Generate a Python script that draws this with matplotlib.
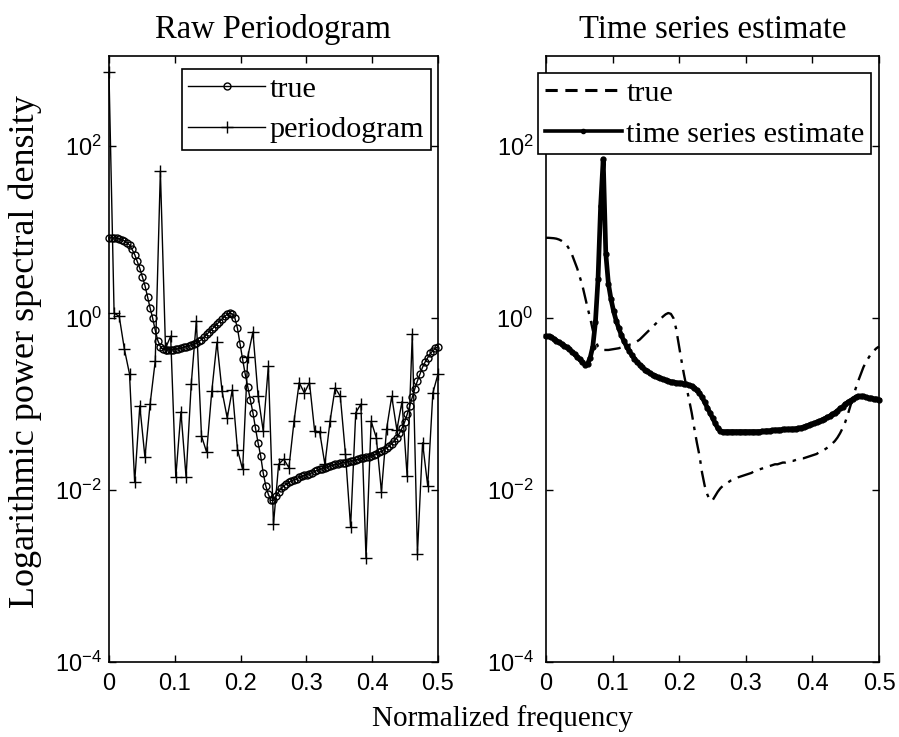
import numpy as np
import matplotlib
matplotlib.use("Agg")
import matplotlib.pyplot as plt
from matplotlib.lines import Line2D

# ---------------- data ----------------
# true spectrum, log10 values at f = k/256, k = 0..128
true_log = [
    0.935, 0.935, 0.933, 0.93, 0.925, 0.915, 0.90, 0.88, 0.85, 0.80,
    0.74, 0.66, 0.58, 0.48, 0.38, 0.25, 0.12, 0.0, -0.14, -0.26,
    -0.33, -0.36, -0.37, -0.37, -0.37, -0.365, -0.36, -0.355, -0.35, -0.34,
    -0.33, -0.32, -0.31, -0.30, -0.29, -0.27, -0.25, -0.22, -0.19, -0.16,
    -0.13, -0.10, -0.07, -0.04, -0.01, 0.02, 0.045, 0.06, 0.05, 0.0,
    -0.12, -0.30, -0.48, -0.65, -0.80, -0.95, -1.10, -1.28, -1.45, -1.60,
    -1.80, -1.95, -2.05, -2.12, -2.12, -2.07, -2.02, -1.98, -1.95, -1.93,
    -1.91, -1.89, -1.88, -1.87, -1.85, -1.84, -1.83, -1.82, -1.81, -1.80,
    -1.78, -1.77, -1.76, -1.75, -1.74, -1.73, -1.72, -1.71, -1.70, -1.70,
    -1.69, -1.68, -1.68, -1.67, -1.66, -1.66, -1.65, -1.64, -1.63, -1.63,
    -1.62, -1.61, -1.60, -1.59, -1.58, -1.56, -1.55, -1.53, -1.51, -1.49,
    -1.46, -1.43, -1.39, -1.34, -1.28, -1.21, -1.12, -1.02, -0.92, -0.82,
    -0.73, -0.65, -0.57, -0.51, -0.46, -0.41, -0.38, -0.35, -0.33,
]

# raw periodogram, log10 values at f = k/128, k = 0..64
pgram_log = [
    2.86, 0.06, 0.02, -0.36, -0.65, -1.91, -1.02, -1.62, -1.00, -0.50,
    1.71, -0.35, -0.21, -1.85, -1.09, -1.85, -0.77, -0.03, -1.37, -1.56,
    -0.85, -0.28, -0.85, -1.16, -0.83, -1.53, -1.76, -0.45, -0.16, -0.90,
    -1.31, -0.56, -2.40, -1.70, -1.64, -1.74, -1.20, -0.75, -0.87, -0.75,
    -1.31, -1.33, -1.70, -1.20, -0.81, -0.91, -1.58, -2.43, -1.10, -1.00,
    -2.79, -1.20, -1.39, -2.02, -1.29, -0.91, -1.30, -0.97, -1.84, -0.19,
    -2.74, -1.45, -1.95, -0.87, -0.65,
]

# time series estimate, log10 values at f = k/256, k = 0..128
ts_log = [
    -0.21, -0.21, -0.22, -0.24, -0.26, -0.28, -0.30, -0.32, -0.34, -0.36,
    -0.39, -0.42, -0.45, -0.48, -0.51, -0.54, -0.53, -0.46, -0.33, -0.05,
    0.45, 1.30, 1.85, 0.75, 0.40, 0.22, 0.08, -0.03, -0.12, -0.20,
    -0.27, -0.33, -0.38, -0.43, -0.47, -0.51, -0.54, -0.57, -0.60, -0.62,
    -0.64, -0.66, -0.67, -0.69, -0.70, -0.71, -0.72, -0.73, -0.74, -0.745,
    -0.75, -0.755, -0.76, -0.765, -0.77, -0.78, -0.79, -0.81, -0.84, -0.87,
    -0.92, -0.98, -1.04, -1.10, -1.16, -1.22, -1.28, -1.31, -1.32, -1.32,
    -1.32, -1.32, -1.32, -1.32, -1.32, -1.32, -1.32, -1.32, -1.32, -1.32,
    -1.32, -1.32, -1.32, -1.315, -1.315, -1.31, -1.31, -1.305, -1.30, -1.30,
    -1.30, -1.295, -1.295, -1.29, -1.29, -1.29, -1.285, -1.28, -1.275, -1.265,
    -1.255, -1.245, -1.235, -1.225, -1.21, -1.20, -1.185, -1.17, -1.155, -1.14,
    -1.12, -1.10, -1.08, -1.05, -1.03, -1.00, -0.98, -0.96, -0.94, -0.92,
    -0.91, -0.91, -0.91, -0.92, -0.93, -0.93, -0.94, -0.94, -0.95,
]

titles = ["Raw Periodogram", "Time series estimate"]
xtick_vals = [0, 0.1, 0.2, 0.3, 0.4, 0.5]
xtick_labels = ["0", "0.1", "0.2", "0.3", "0.4", "0.5"]
ytick_exps = [-4, -2, 0, 2]
ylabel = "Logarithmic power spectral density"
xlabel = "Normalized frequency"

# ---------------- derived ----------------
f_fine = np.arange(len(true_log)) / 256.0
f_pg = np.arange(len(pgram_log)) / 128.0
true_vals = 10.0 ** np.array(true_log)
pg_vals = 10.0 ** np.array(pgram_log)
ts_vals = 10.0 ** np.array(ts_log)

SERIF = ["Liberation Serif", "DejaVu Serif"]
SANS = ["Liberation Sans", "DejaVu Sans"]
TITLE = 23.5
LEG = 21.8
TICK = 17

fig = plt.figure(figsize=(8.99, 7.37), dpi=100)
ax1 = fig.add_axes([0.1212, 0.1018, 0.3660, 0.8222])
ax2 = fig.add_axes([0.6073, 0.1018, 0.3705, 0.8222])


def style_axes(ax, title, ypad):
    ax.set_yscale("log")
    ax.set_xlim(0, 0.5)
    ax.set_ylim(1e-4, 10 ** 3.05)
    ax.set_xticks(xtick_vals)
    ax.set_xticklabels(xtick_labels, family=SANS, fontsize=TICK)
    ax.set_yticks([10.0 ** e for e in ytick_exps])
    ax.set_yticklabels([r"$\mathregular{10^{%d}}$" % e for e in ytick_exps],
                       family=SANS, fontsize=TICK)
    ax.minorticks_off()
    ax.tick_params(direction="in", length=5, width=1, top=True, right=True,
                   colors="black")
    ax.tick_params(axis="x", pad=8)
    ax.tick_params(axis="y", pad=ypad)
    for s in ax.spines.values():
        s.set_linewidth(1.2)
    ax.set_title(title, family=SERIF, fontsize=TITLE, pad=13)


leg_kw = dict(prop={"family": SERIF, "size": LEG}, fancybox=False,
              edgecolor="black", framealpha=1, handlelength=2.55,
              handletextpad=0.15, labelspacing=0.45, borderpad=0.22,
              borderaxespad=0)

# left panel
ax1.plot(f_fine, true_vals, color="black", lw=1.0, marker="o", ms=5,
         mfc="none", mew=1.0, label="true", clip_on=False)
ax1.plot(f_pg, pg_vals, color="black", lw=1.0, marker="+", ms=8,
         mew=1.0, label="periodogram", clip_on=False)
style_axes(ax1, titles[0], 5)
leg1 = ax1.legend(loc="upper right", bbox_to_anchor=(0.979, 0.979), **leg_kw)
leg1.get_frame().set_linewidth(1.2)

# right panel
ax2.plot(f_fine, true_vals, color="black", lw=1.7, ls=(0, (7, 3, 1.5, 3)),
         clip_on=False)
ax2.plot(f_fine, ts_vals, color="black", lw=3.4, marker=".", ms=7,
         clip_on=False)
style_axes(ax2, titles[1], 9)
handles = [
    Line2D([], [], color="black", lw=2.2, ls=(0, (4, 2.5))),
    Line2D([], [], color="black", lw=2.6, marker=".", ms=6),
]
leg2 = ax2.legend(handles, ["true", "time series estimate"], loc="upper left",
                  bbox_to_anchor=(-0.024, 0.972), **leg_kw)
leg2.get_frame().set_linewidth(1.2)

fig.text(25 / 899, 1 - 352 / 737, ylabel, family=SERIF, fontsize=26,
         rotation=90, ha="center", va="center")
fig.text(503 / 899, 1 - 719 / 737, xlabel, family=SERIF, fontsize=21,
         ha="center", va="center")

fig.savefig("out.png", dpi=100)
